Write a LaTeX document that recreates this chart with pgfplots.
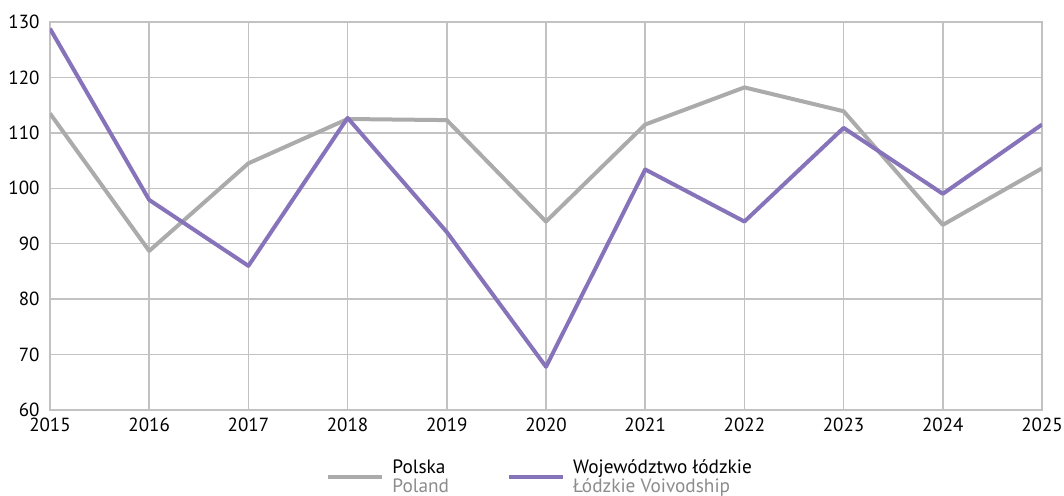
\documentclass[border=0pt]{standalone}
\usepackage{fontspec}
\setmainfont{PT Sans}
\usepackage{pgfplots}
\pgfplotsset{compat=1.18}
\definecolor{polska}{HTML}{ABABAB}
\definecolor{lodz}{HTML}{8673BA}
\definecolor{gridc}{HTML}{C2C2C2}
\definecolor{subgray}{HTML}{8C8C8C}
\pgfplotstableread{
year polska lodz
2015 113.5 128.8
2016 88.7 97.9
2017 104.5 86.0
2018 112.5 112.7
2019 112.3 92.1
2020 94.0 67.8
2021 111.5 103.4
2022 118.2 94.0
2023 113.9 110.9
2024 93.4 99.0
2025 103.6 111.5
}\datatable
\begin{document}
\begin{tikzpicture}
\begin{axis}[name=ax, at={(0,0)}, anchor=south west,
  scale only axis, width=992pt, height=388pt,
  xmin=2015, xmax=2025, ymin=60, ymax=130,
  xtick={2015,2016,...,2025}, ytick={60,70,...,130},
  /pgf/number format/assume math mode=true,
  xticklabel style={/pgf/number format/1000 sep={}, yshift=-4pt},
  yticklabel style={xshift=-7pt},
  tick label style={font=\fontsize{19pt}{20pt}\selectfont},
  major tick length=0pt,
  grid=major,
  major grid style={gridc, line width=1.5pt},
  axis line style={gridc, line width=1.5pt},
  legend columns=2,
  legend cell align=left,
  legend style={at={(0.2755,-0.117)}, anchor=north west, draw=none, fill=none,
    font=\fontsize{19.3pt}{19.5pt}\selectfont,
    nodes={align=left, inner xsep=8pt},
    /tikz/every even column/.append style={column sep=50pt}},
  legend image code/.code={\draw[#1] (0pt,0pt) -- (54pt,0pt);},
]
\addplot[polska, line width=4pt, line join=round] table[x=year, y=polska] {\datatable};
\addlegendentry{Polska\\\textcolor{subgray}{Poland}}
\addplot[lodz, line width=4pt, line join=round] table[x=year, y=lodz] {\datatable};
\addlegendentry{Województwo łódzkie\\\textcolor{subgray}{Łódzkie Voivodship}}
\end{axis}
\pgfresetboundingbox
\path[use as bounding box] (-50pt,-85pt) rectangle (1014pt,410pt);
\end{tikzpicture}
\end{document}
